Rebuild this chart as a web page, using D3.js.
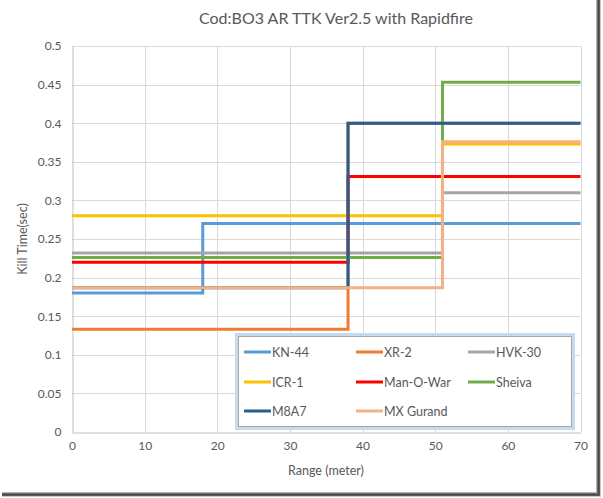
<!DOCTYPE html>
<html>
<head>
<meta charset="utf-8">
<script src="https://d3js.org/d3.v7.min.js"></script>
<style>
  body { margin: 0; background: #fff; }
  text { font-family: Lato, "Open Sans", sans-serif; fill: #595959; }
</style>
</head>
<body>
<script>
// kill time (sec) by range (meter), step points
var names = ["KN-44", "XR-2", "HVK-30", "ICR-1", "Man-O-War", "Sheiva", "M8A7", "MX Gurand"];
var colors = ["#5b9bd5", "#ed7d31", "#a5a5a5", "#ffc000", "#ff0000", "#70ad47", "#255e91", "#f4b183"];
var kn44 = [[0, 0.180], [18, 0.270], [70, 0.270]];
var xr2 = [[0, 0.133], [38, 0.400], [70, 0.400]];
var hvk30 = [[0, 0.232], [51, 0.310], [70, 0.310]];
var icr1 = [[0, 0.280], [51, 0.373], [70, 0.373]];
var manowar = [[0, 0.220], [38, 0.331], [70, 0.331]];
var sheiva = [[0, 0.226], [51, 0.453], [70, 0.453]];
var m8a7 = [[0, 0.187], [38, 0.400], [70, 0.400]];
var mxgurand = [[0, 0.187], [51, 0.376], [70, 0.376]];
var xTicks = [0, 10, 20, 30, 40, 50, 60, 70];
var yTicks = [0, 0.05, 0.1, 0.15, 0.2, 0.25, 0.3, 0.35, 0.4, 0.45, 0.5];

var series = [kn44, xr2, hvk30, icr1, manowar, sheiva, m8a7, mxgurand];

var W = 603, H = 498;
var svg = d3.select("body").append("svg").attr("width", W).attr("height", H);

// frame shadow on right and bottom (soft)
var shades = ["#b0b0b0", "#707070", "#454545", "#5a5a5a", "#c8c8c8"];
shades.forEach(function(c, k) {
  svg.append("rect").attr("x", 596 + k).attr("y", 0).attr("width", 1).attr("height", 492 + k).attr("fill", c);
  svg.append("rect").attr("x", 2).attr("y", 492 + k).attr("width", 595 + k).attr("height", 1).attr("fill", c);
});
svg.append("rect").attr("x", 0).attr("y", 0).attr("width", 596).attr("height", 492).attr("fill", "#fff");

var x = d3.scaleLinear().domain([0, 70]).range([72, 580.5]);
var y = d3.scaleLinear().domain([0, 0.5]).range([432, 46]);

// gridlines
svg.append("g").selectAll("line").data(yTicks.slice(1)).enter().append("line")
  .attr("x1", x(0)).attr("x2", x(70))
  .attr("y1", function(d) { return Math.round(y(d)) + 0.5; })
  .attr("y2", function(d) { return Math.round(y(d)) + 0.5; })
  .attr("stroke", "#d9d9d9");
svg.append("g").selectAll("line").data(xTicks.slice(1)).enter().append("line")
  .attr("y1", y(0)).attr("y2", y(0.5))
  .attr("x1", function(d) { return Math.round(x(d)) + 0.5; })
  .attr("x2", function(d) { return Math.round(x(d)) + 0.5; })
  .attr("stroke", "#d9d9d9");

// axes
var xAxis = d3.axisBottom(x).tickValues(xTicks).tickSize(0).tickPadding(9);
var yAxis = d3.axisLeft(y).tickValues(yTicks).tickSize(0).tickPadding(11)
  .tickFormat(function(d) { return d3.format("~g")(d); });

var gx = svg.append("g").attr("transform", "translate(0," + (Math.round(y(0)) + 0.5) + ")").call(xAxis);
var gy = svg.append("g").attr("transform", "translate(" + (Math.round(x(0)) + 0.5) + ",0)").call(yAxis);
gx.select(".domain").attr("stroke", "#bfbfbf");
gy.select(".domain").attr("stroke", "#bfbfbf");
svg.selectAll(".tick text").style("font-size", "12px").style("fill", "#595959")
  .style("font-family", "Lato, 'Open Sans', sans-serif");

// lines
var line = d3.line()
  .x(function(d) { return x(d[0]); })
  .y(function(d) { return y(d[1]); })
  .curve(d3.curveStepAfter);

svg.append("g").selectAll("path").data(series).enter().append("path")
  .attr("d", line)
  .attr("fill", "none")
  .attr("stroke", function(d, i) { return colors[i]; })
  .attr("stroke-width", 3);

// titles
svg.append("text").attr("x", 336).attr("y", 24).attr("text-anchor", "middle")
  .style("font-size", "16px").text("Cod:BO3 AR TTK Ver2.5 with Rapidfire");
svg.append("text").attr("x", 326).attr("y", 475).attr("text-anchor", "middle")
  .style("font-size", "12.5px").text("Range (meter)");
svg.append("text").attr("transform", "translate(27,239) rotate(-90)").attr("text-anchor", "middle")
  .style("font-size", "12.5px").text("Kill Time(sec)");

// legend
var lg = svg.append("g");
lg.append("rect").attr("x", 236.5).attr("y", 334.5).attr("width", 337).attr("height", 94)
  .attr("fill", "none").attr("stroke", "#c5dcf0").attr("stroke-width", 3);
lg.append("rect").attr("x", 238.5).attr("y", 336.5).attr("width", 333).attr("height", 90)
  .attr("fill", "#fff").attr("stroke", "#a6a6a6");
var colX = [244, 356, 468];
var rowY = [352, 382, 411];
var items = lg.selectAll("g.item").data(names).enter().append("g")
  .attr("transform", function(d, i) { return "translate(" + colX[i % 3] + "," + rowY[Math.floor(i / 3)] + ")"; });
items.append("line").attr("x1", 0).attr("x2", 27).attr("y1", 0).attr("y2", 0)
  .attr("stroke", function(d, i) { return colors[i]; }).attr("stroke-width", 3);
items.append("text").attr("x", 28).attr("y", 4.5).style("font-size", "12.5px").text(function(d) { return d; });
</script>
</body>
</html>
